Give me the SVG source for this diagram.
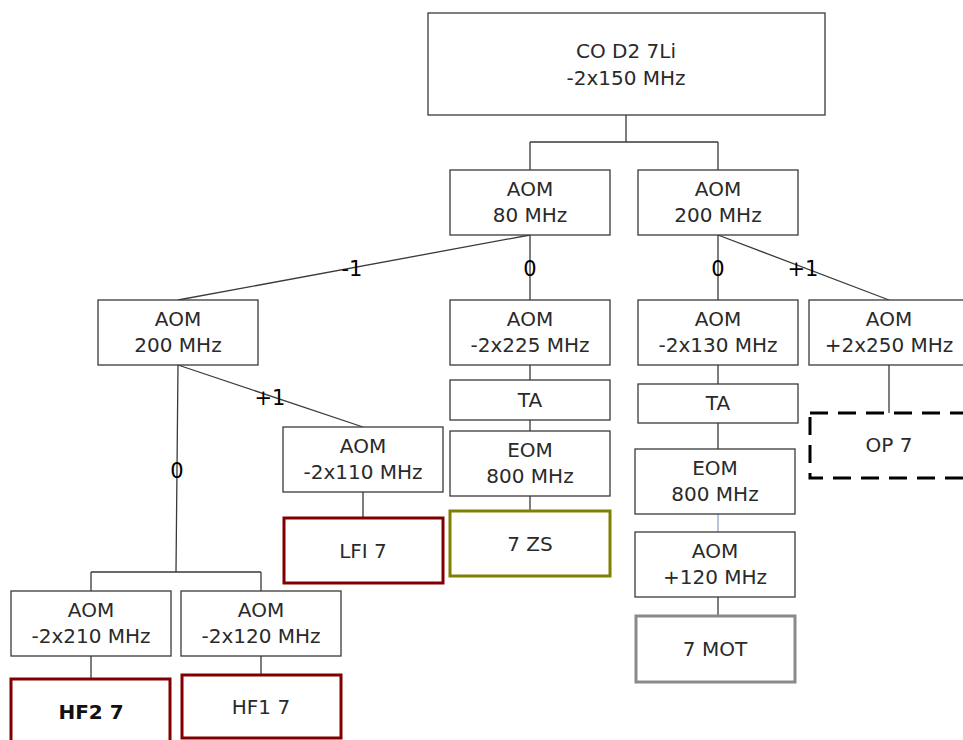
<svg xmlns="http://www.w3.org/2000/svg" width="963" height="740" viewBox="0 0 963 740">
<style>
.b{fill:#fff;stroke:#3a3a3a;stroke-width:1.3}
.red{fill:#fff;stroke:#800000;stroke-width:3}
.ol{fill:#fff;stroke:#808000;stroke-width:3}
.gr{fill:#fff;stroke:#8a8a8a;stroke-width:3}
.ds{fill:#fff;stroke:#000;stroke-width:3;stroke-dasharray:18 10}
text{font-family:"DejaVu Sans","Liberation Sans",sans-serif;font-size:20px;fill:#2a2a2a;text-anchor:middle}
.lb{fill:#000;font-size:21px}
.c{stroke:#3a3a3a;stroke-width:1.3;fill:none}
</style>
<rect width="963" height="740" fill="#fff"/>
<g id="connectors">
<path class="c" d="M626 115V142M530 142H718M530 142V170M718 142V170"/>
<path class="c" d="M530 235V300M530 235L178 300M718 235V300M718 235L889 300"/>
<path class="c" d="M889 365V413"/>
<path class="c" d="M530 365V380M530 420V431M530 496V511"/>
<path class="c" d="M718 365V384M718 423V449M718 597V615"/>
<path d="M718 514V532" stroke="#8ea6cc" stroke-width="1.3"/>
<path class="c" d="M178 365L176 572M91 572H261M91 572V591M261 572V591"/>
<path class="c" d="M178 365L363 427M363 492V518"/>
<path class="c" d="M91 656V678M261 656V674"/>
<text class="lb" x="352" y="276">-1</text>
<text class="lb" x="530" y="276">0</text>
<text class="lb" x="718" y="276">0</text>
<text class="lb" x="803" y="276">+1</text>
<text class="lb" x="270" y="405">+1</text>
<text class="lb" x="177" y="478">0</text>
</g>
<g id="co"><rect class="b" x="428" y="13" width="397" height="102"/><text x="626" y="58">CO D2 7Li</text><text x="626" y="85">-2x150 MHz</text></g>
<g id="aom80"><rect class="b" x="450" y="170" width="160" height="65"/><text x="530" y="196">AOM</text><text x="530" y="222">80 MHz</text></g>
<g id="aom200r"><rect class="b" x="638" y="170" width="160" height="65"/><text x="718" y="196">AOM</text><text x="718" y="222">200 MHz</text></g>
<g id="aom200l"><rect class="b" x="98" y="300" width="160" height="65"/><text x="178" y="326">AOM</text><text x="178" y="352">200 MHz</text></g>
<g id="aom225"><rect class="b" x="450" y="300" width="160" height="65"/><text x="530" y="326">AOM</text><text x="530" y="352">-2x225 MHz</text></g>
<g id="ta1"><rect class="b" x="450" y="380" width="160" height="40"/><text x="530" y="407">TA</text></g>
<g id="eom1"><rect class="b" x="450" y="431" width="160" height="65"/><text x="530" y="457">EOM</text><text x="530" y="483">800 MHz</text></g>
<g id="zs"><rect class="ol" x="450" y="511" width="160" height="65"/><text x="530" y="551">7 ZS</text></g>
<g id="aom130"><rect class="b" x="638" y="300" width="160" height="65"/><text x="718" y="326">AOM</text><text x="718" y="352">-2x130 MHz</text></g>
<g id="aom250"><rect class="b" x="809" y="300" width="160" height="65"/><text x="889" y="326">AOM</text><text x="889" y="352">+2x250 MHz</text></g>
<g id="ta2"><rect class="b" x="638" y="384" width="160" height="39"/><text x="718" y="410">TA</text></g>
<g id="op"><rect class="ds" x="810" y="413" width="170" height="65"/><text x="889" y="452">OP 7</text></g>
<g id="eom2"><rect class="b" x="635" y="449" width="160" height="65"/><text x="715" y="475">EOM</text><text x="715" y="501">800 MHz</text></g>
<g id="aom120p"><rect class="b" x="635" y="532" width="160" height="65"/><text x="715" y="558">AOM</text><text x="715" y="584">+120 MHz</text></g>
<g id="mot"><rect class="gr" x="636" y="616" width="159" height="66"/><text x="715" y="656">7 MOT</text></g>
<g id="aom110"><rect class="b" x="283" y="427" width="160" height="65"/><text x="363" y="453">AOM</text><text x="363" y="479">-2x110 MHz</text></g>
<g id="lfi"><rect class="red" x="284" y="518" width="159" height="65"/><text x="363" y="558">LFI 7</text></g>
<g id="aom210"><rect class="b" x="11" y="591" width="160" height="65"/><text x="91" y="617">AOM</text><text x="91" y="643">-2x210 MHz</text></g>
<g id="aom120m"><rect class="b" x="181" y="591" width="160" height="65"/><text x="261" y="617">AOM</text><text x="261" y="643">-2x120 MHz</text></g>
<g id="hf2"><rect class="red" x="11" y="679" width="159" height="66"/><text x="91" y="719" style="fill:#111;font-weight:bold">HF2 7</text></g>
<g id="hf1"><rect class="red" x="182" y="675" width="159" height="63"/><text x="261" y="714">HF1 7</text></g>
</svg>
